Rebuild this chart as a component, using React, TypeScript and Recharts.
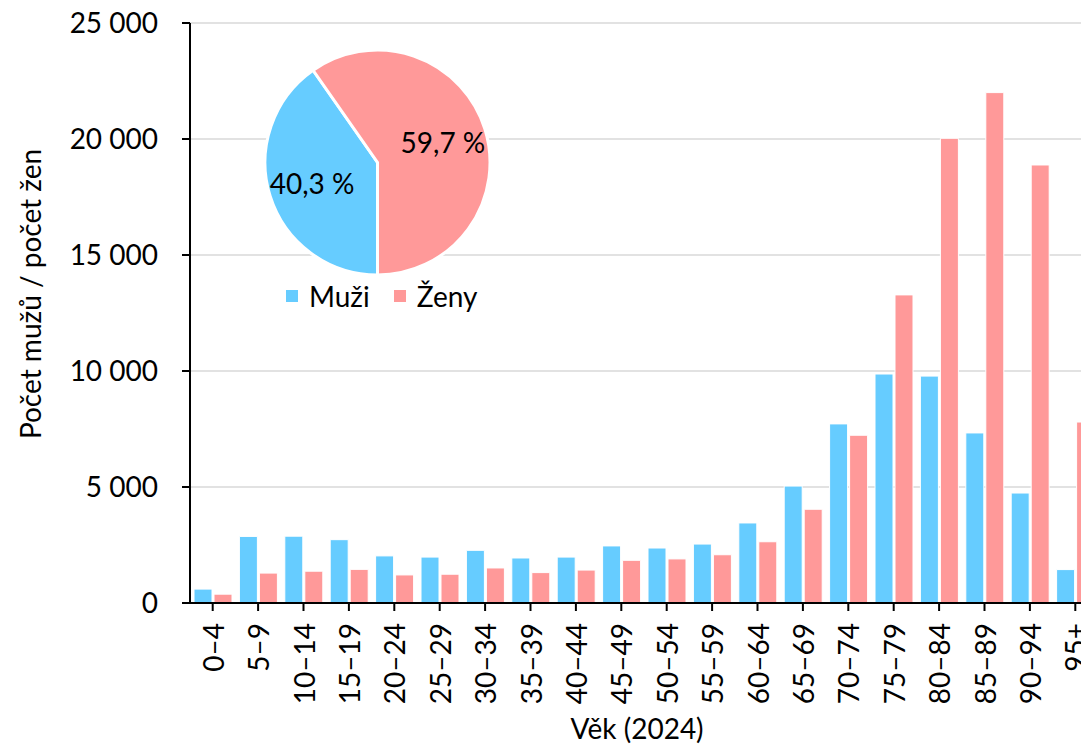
import { BarChart, Bar, XAxis, YAxis, CartesianGrid, Legend, Label, PieChart, Pie, Cell } from "recharts";

const ageGroups = [
  "0–4", "5–9", "10–14", "15–19", "20–24", "25–29", "30–34", "35–39", "40–44", "45–49",
  "50–54", "55–59", "60–64", "65–69", "70–74", "75–79", "80–84", "85–89", "90–94", "95+",
];
const muzi = [600, 2870, 2880, 2730, 2030, 1980, 2270, 1940, 1980, 2460, 2370, 2540, 3450, 5040, 7720, 9870, 9780, 7330, 4740, 1440];
const zeny = [380, 1290, 1370, 1450, 1210, 1240, 1510, 1310, 1420, 1840, 1900, 2080, 2640, 4040, 7230, 13280, 20030, 22000, 18880, 7800];
const yTicks = [0, 5000, 10000, 15000, 20000, 25000];
const pieNames = ["Muži", "Ženy"];
const pieShares = [40.3, 59.7];

const BLUE = "#66CCFF";
const PINK = "#FF9999";
const FONT = "Lato, 'Open Sans', sans-serif";
const FS = 28;

const data = ageGroups.map((age, i) => ({ age, muzi: muzi[i], zeny: zeny[i] }));
const pieData = pieNames.map((name, i) => ({ name, value: pieShares[i] }));

const fmtNum = (v: number) => String(v).replace(/\B(?=(\d{3})+(?!\d))/g, " ");
const fmtPct = (v: number) => v.toFixed(1).replace(".", ",") + " %";

const RAD = Math.PI / 180;

function XTick(props: any) {
  const { x, y, payload } = props;
  return (
    <text
      transform={`translate(${x},${y + 10}) rotate(-90)`}
      textAnchor="end"
      dominantBaseline="central"
      fontFamily={FONT}
      fontSize={FS}
      fill="#000"
    >
      {payload.value}
    </text>
  );
}

function PieLabel(props: any) {
  const { cx, cy, midAngle, outerRadius, value } = props;
  const r = outerRadius * 0.61;
  const x = cx + r * Math.cos(-midAngle * RAD);
  const y = cy + r * Math.sin(-midAngle * RAD);
  return (
    <text x={x} y={y} textAnchor="middle" dominantBaseline="central" fontFamily={FONT} fontSize={FS} fill="#000">
      {fmtPct(value)}
    </text>
  );
}

function LegendContent(props: any) {
  const items = props.payload || [];
  return (
    <div style={{ display: "flex", alignItems: "center", fontFamily: FONT, fontSize: FS, color: "#000" }}>
      {items.map((it: any, i: number) => (
        <div key={i} style={{ display: "flex", alignItems: "center", marginRight: 24 }}>
          <span style={{ width: 12, height: 12, background: it.color, display: "inline-block", marginRight: 11 }} />
          <span>{it.value}</span>
        </div>
      ))}
    </div>
  );
}

export default function App() {
  return (
    <div style={{ position: "fixed", left: 0, top: 0, width: 1081, height: 745, overflow: "hidden", background: "#fff" }}>
      <BarChart
        width={1100}
        height={745}
        data={data}
        margin={{ top: 23, right: 2, bottom: 0, left: 0 }}
        barCategoryGap={4}
        barGap={2}
      >
        <CartesianGrid vertical={false} stroke="#d9d9d9" strokeWidth={1.5} />
        <XAxis
          dataKey="age"
          interval={0}
          height={142}
          tickSize={8}
          tick={<XTick />}
          axisLine={{ stroke: "#000", strokeWidth: 2 }}
          tickLine={{ stroke: "#000", strokeWidth: 2 }}
        >
          <Label
            content={(p: any) => {
              const vb = p.viewBox;
              return (
                <text x={vb.x + vb.width / 2 - 7} y={739} textAnchor="middle" fontFamily={FONT} fontSize={FS} fill="#000">
                  Věk (2024)
                </text>
              );
            }}
          />
        </XAxis>
        <YAxis
          width={190}
          domain={[0, 25000]}
          ticks={yTicks}
          tickFormatter={fmtNum}
          tickSize={8}
          tickMargin={24}
          tick={{ fontFamily: FONT, fontSize: FS, fill: "#000" }}
          axisLine={{ stroke: "#000", strokeWidth: 2 }}
          tickLine={{ stroke: "#000", strokeWidth: 2 }}
        >
          <Label
            content={(p: any) => {
              const vb = p.viewBox;
              const cy = vb.y + vb.height / 2 - 19;
              return (
                <text
                  transform={`translate(30,${cy}) rotate(-90)`}
                  textAnchor="middle"
                  dominantBaseline="central"
                  fontFamily={FONT}
                  fontSize={FS}
                  fill="#000"
                >
                  Počet mužů / počet žen
                </text>
              );
            }}
          />
        </YAxis>
        <Legend
          layout="horizontal"
          verticalAlign="middle"
          align="center"
          content={<LegendContent />}
          wrapperStyle={{ left: 286, top: 279, width: "auto", height: "auto" }}
        />
        <Bar dataKey="muzi" name="Muži" fill={BLUE} stroke="#fff" strokeWidth={1} isAnimationActive={false} />
        <Bar dataKey="zeny" name="Ženy" fill={PINK} stroke="#fff" strokeWidth={1} isAnimationActive={false} />
      </BarChart>
      <div style={{ position: "absolute", left: 257, top: 42 }}>
        <PieChart width={241} height={241} margin={{ top: 0, right: 0, bottom: 0, left: 0 }}>
          <Pie
            data={pieData}
            dataKey="value"
            nameKey="name"
            cx="50%"
            cy="50%"
            outerRadius={112.5}
            startAngle={-90}
            endAngle={-450}
            stroke="#fff"
            strokeWidth={3}
            label={PieLabel}
            labelLine={false}
            isAnimationActive={false}
          >
            <Cell fill={BLUE} />
            <Cell fill={PINK} />
          </Pie>
        </PieChart>
      </div>
    </div>
  );
}
